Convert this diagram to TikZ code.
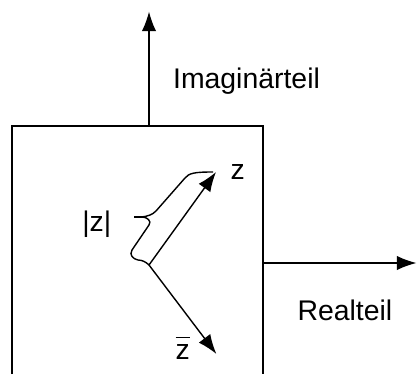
\documentclass[tikz,border=0pt]{standalone}
\usepackage{fontspec}
\setmainfont{Liberation Sans}
\usetikzlibrary{arrows.meta}

\begin{document}
\begin{tikzpicture}[
    line width=1pt,
    axis/.style={-{Latex[length=0.49cm,width=0.36cm]}},
    lbl/.style={anchor=base west, inner sep=0pt, font=\fontsize{20.2}{24}\selectfont}
  ]
    \useasboundingbox (0,0) rectangle (10.425,9.35);

    % Box (open at the bottom)
    \coordinate (bl) at (0.3,0);
    \coordinate (tl) at (0.3,6.2);
    \coordinate (tr) at (6.575,6.2);
    \coordinate (br) at (6.575,0);
    \draw (bl) -- (tl) -- (tr) -- (br);

    % Axes
    \coordinate (imtop) at (3.725,6.2);
    \coordinate (imend) at (3.725,9.06);
    \coordinate (releft) at (6.575,2.775);
    \coordinate (reend) at (10.41,2.775);
    \draw[axis] (imtop) -- (imend);
    \draw[axis] (releft) -- (reend);

    % Vectors z and conjugate
    \coordinate (O) at (3.725,2.725);
    \coordinate (z) at (5.4,5.05);
    \coordinate (zb) at (5.41,0.5);
    \draw[axis] (O) -- (z);
    \draw[axis] (O) -- (zb);

    % Brace for |z|
    \coordinate (tip) at (3.55,3.925);
    \coordinate (stub) at (3.35,3.925);
    \draw (tip) .. controls (3.7,3.95) and (3.8,3.975) .. (3.9,4.075)
          -- (4.625,4.9) .. controls (4.725,5.025) and (4.875,5.05) .. (5.325,5.05);
    \draw (tip) .. controls (3.675,3.925) and (3.8,3.825) .. (3.725,3.725)
          -- (3.3,3.1) .. controls (3.225,2.975) and (3.325,2.875) .. (3.45,2.85)
          .. controls (3.55,2.85) and (3.65,2.8) .. (O);
    \draw (stub) -- (tip);

    % Labels
    \node[lbl] (imlabel) at (4.31,7.14) {Imaginärteil};
    \node[lbl] (zlabel) at (5.75,4.85) {z};
    \node[lbl] (abslabel) at (2.04,3.575) {|z|};
    \node[lbl] (zblabel) at (4.375,0.375) {$\overline{\vphantom{I}\mbox{z}}$};
    \node[lbl] (relabel) at (7.42,1.33) {Realteil};
\end{tikzpicture}
\end{document}
